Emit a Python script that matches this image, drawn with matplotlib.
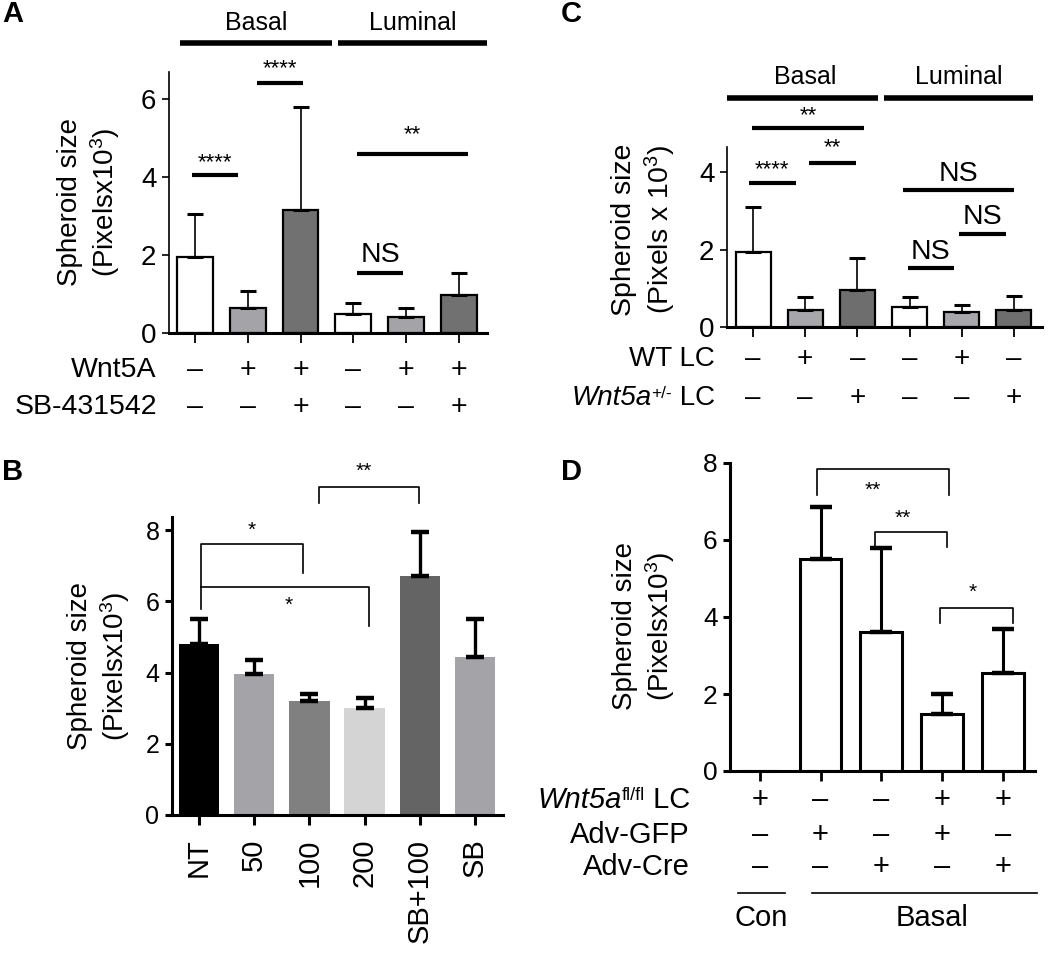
import numpy as np
import matplotlib
matplotlib.use("Agg")
import matplotlib.pyplot as plt

plt.rcParams['font.family'] = ['Liberation Sans', 'DejaVu Sans']
plt.rcParams['mathtext.fontset'] = 'custom'
plt.rcParams['mathtext.rm'] = 'Liberation Sans'
plt.rcParams['mathtext.it'] = 'Liberation Sans:italic'

# ---- data ----
# Panel A
a_means = [1.95, 0.65, 3.15, 0.5, 0.4, 0.97]
a_err = [1.1, 0.42, 2.65, 0.27, 0.23, 0.56]
a_colors = ['white', '#a4a4a8', '#717171', 'white', '#a4a4a8', '#717171']
a_wnt5a = ['–', '+', '+', '–', '+', '+']
a_sb = ['–', '–', '+', '–', '–', '+']

# Panel B
b_labels = ['NT', '50', '100', '200', 'SB+100', 'SB']
b_means = [4.8, 3.95, 3.2, 3.0, 6.7, 4.45]
b_err = [0.7, 0.4, 0.2, 0.28, 1.25, 1.05]
b_colors = ['black', '#a3a3a8', '#808080', '#d4d4d4', '#646464', '#a3a3a8']

# Panel C
c_means = [1.95, 0.45, 0.95, 0.52, 0.38, 0.45]
c_err = [1.15, 0.32, 0.83, 0.25, 0.19, 0.35]
c_colors = ['white', '#a8a8ac', '#6e6e6e', 'white', '#a8a8ac', '#6e6e6e']
c_wt = ['–', '+', '–', '–', '+', '–']
c_het = ['–', '–', '+', '–', '–', '+']

# Panel D
d_means = [0, 5.5, 3.62, 1.47, 2.55]
d_err = [0, 1.35, 2.16, 0.53, 1.13]
d_fl = ['+', '–', '–', '+', '+']
d_gfp = ['–', '+', '–', '+', '–']
d_cre = ['–', '–', '+', '–', '+']

W, H = 1050, 960
fig = plt.figure(figsize=(W / 100, H / 100), dpi=100)


def add_ax(x0, x1, y0, y1):
    # pixel box (from top-left) -> figure fraction
    return fig.add_axes([x0 / W, 1 - y1 / H, (x1 - x0) / W, (y1 - y0) / H])


def style(ax, lw_left, lw_bottom, fs):
    for s in ['top', 'right']:
        ax.spines[s].set_visible(False)
    ax.spines['left'].set_linewidth(lw_left)
    ax.spines['bottom'].set_linewidth(lw_bottom)
    ax.tick_params(axis='y', length=5, width=lw_left, labelsize=fs, pad=4)
    ax.tick_params(axis='x', length=7, width=1.3, labelbottom=False)
    ax.patch.set_alpha(0)


def sig_line(ax, x0, x1, y, label, ty, fs=16):
    ax.plot([x0, x1], [y, y], color='black', lw=3, clip_on=False, solid_capstyle='butt')
    ax.text((x0 + x1) / 2, ty, label, ha='center', va='center', fontsize=fs, clip_on=False)


def bracket(ax, x0, x1, y, yl, yr, label, tx, ty, fs=15):
    ax.plot([x0, x0, x1, x1], [yl, y, y, yr], color='black', lw=1.2, clip_on=False)
    ax.text(tx, ty, label, ha='center', va='center', fontsize=fs, clip_on=False)


def gene_label(ax, x, y, gene, sup, rest, fs):
    # italic gene name + upright superscript + plain text, right aligned at x
    t1 = ax.text(x, y, rest, ha='right', va='center', fontsize=fs, clip_on=False)
    t2 = ax.annotate(sup, xy=(0, 0.36), xycoords=t1, ha='right', va='bottom',
                     fontsize=fs * 0.62, annotation_clip=False)
    ax.annotate(gene, xy=(0, 0), xycoords=(t2, t1), ha='right', va='bottom',
                fontsize=fs, style='italic', annotation_clip=False)


def rows(ax, labels, signs, ys, xlab, fs):
    for lab, sg, y in zip(labels, signs, ys):
        if isinstance(lab, tuple):
            gene_label(ax, xlab, y, lab[0], lab[1], lab[2], fs)
        else:
            ax.text(xlab, y, lab, ha='right', va='center', fontsize=fs, clip_on=False)
        for i, s in enumerate(sg):
            ax.text(i, y, s, ha='center', va='center', fontsize=fs, clip_on=False)


# ---------------- Panel A ----------------
ax = add_ax(169, 487, 72, 333)
x = np.arange(len(a_means))
ax.bar(x, a_means, width=0.68, color=a_colors, edgecolor='black', linewidth=1.6, zorder=2)
ax.errorbar(x, a_means, yerr=[np.zeros(len(x)), a_err], fmt='none', ecolor='black',
            elinewidth=1.2, capsize=6, capthick=2.2, zorder=3)
ax.set_xlim(-0.49, 5.53)
ax.set_ylim(0, 6.7)
ax.set_yticks([0, 2, 4, 6])
ax.set_xticks(x)
style(ax, 1.2, 2.2, 20)
ax.set_ylabel('Spheroid size\n(Pixelsx10$^3$)', fontsize=20, linespacing=1.2)
ax.yaxis.set_label_coords(-0.148, 0.5)
sig_line(ax, -0.06, 0.81, 4.05, '****', 4.38)
sig_line(ax, 1.17, 2.05, 6.41, '****', 6.78)
sig_line(ax, 3.07, 3.94, 1.54, 'NS', 1.99, fs=20.5)
sig_line(ax, 3.07, 5.17, 4.6, '**', 5.1)
ax.plot([-0.28, 2.6], [7.44, 7.44], color='black', lw=4, clip_on=False, solid_capstyle='butt')
ax.plot([2.71, 5.53], [7.44, 7.44], color='black', lw=4, clip_on=False, solid_capstyle='butt')
ax.text(1.16, 7.95, 'Basal', ha='center', va='center', fontsize=18)
ax.text(4.12, 7.95, 'Luminal', ha='center', va='center', fontsize=18)
rows(ax, ['Wnt5A', 'SB-431542'], [a_wnt5a, a_sb], [-0.95, -1.9], -0.72, 20.5)
fig.text(2 / W, 1 - 14 / H, 'A', fontsize=21, fontweight='bold', va='center')

# ---------------- Panel C ----------------
ax = add_ax(727, 1042, 147, 327)
x = np.arange(len(c_means))
ax.bar(x, c_means, width=0.67, color=c_colors, edgecolor='black', linewidth=1.6, zorder=2)
ax.errorbar(x, c_means, yerr=[np.zeros(len(x)), c_err], fmt='none', ecolor='black',
            elinewidth=1.2, capsize=6, capthick=2.2, zorder=3)
ax.set_xlim(-0.5, 5.54)
ax.set_ylim(0, 4.65)
ax.set_yticks([0, 2, 4])
ax.set_xticks(x)
style(ax, 1.2, 2.2, 20)
ax.set_ylabel('Spheroid size\n(Pixels x 10$^3$)', fontsize=20.5, linespacing=1.2)
ax.yaxis.set_label_coords(-0.156, 0.54)
sig_line(ax, -0.08, 0.82, 3.72, '****', 4.06)
sig_line(ax, 1.07, 1.97, 4.24, '**', 4.62)
sig_line(ax, -0.02, 2.13, 5.14, '**', 5.47)
sig_line(ax, 2.87, 5.0, 3.54, 'NS', 3.96, fs=20.5)
sig_line(ax, 3.95, 4.85, 2.4, 'NS', 2.85, fs=20.5)
sig_line(ax, 2.97, 3.85, 1.52, 'NS', 1.94, fs=20.5)
ax.plot([-0.5, 2.39], [5.92, 5.92], color='black', lw=4, clip_on=False, solid_capstyle='butt')
ax.plot([2.51, 5.36], [5.92, 5.92], color='black', lw=4, clip_on=False, solid_capstyle='butt')
ax.text(1.0, 6.45, 'Basal', ha='center', va='center', fontsize=18)
ax.text(3.95, 6.45, 'Luminal', ha='center', va='center', fontsize=18)
rows(ax, ['WT LC', ('Wnt5a', '+/-', ' LC')], [c_wt, c_het], [-0.83, -1.83], -0.73, 20)
fig.text(561 / W, 1 - 14 / H, 'C', fontsize=21, fontweight='bold', va='center')

# ---------------- Panel B ----------------
ax = add_ax(172, 503, 517, 815)
x = np.arange(len(b_means))
ax.bar(x, b_means, width=0.73, color=b_colors, edgecolor='none', zorder=2)
ax.errorbar(x, b_means, yerr=[np.zeros(len(x)), b_err], fmt='none', ecolor='black',
            elinewidth=2.4, capsize=6.5, capthick=3.2, zorder=3)
ax.set_xlim(-0.49, 5.51)
ax.set_ylim(0, 8.37)
ax.set_yticks([0, 2, 4, 6, 8])
ax.set_xticks(x)
style(ax, 2.2, 2.2, 18)
ax.tick_params(axis='x', width=2.2, labelbottom=True, labelsize=21, labelrotation=90, pad=10)
ax.set_xticklabels(b_labels)
ax.set_ylabel('Spheroid size\n(Pixelsx10$^3$)', fontsize=20, linespacing=1.2)
ax.yaxis.set_label_coords(-0.12, 0.5)
bracket(ax, 0.04, 1.88, 7.6, 5.8, 6.8, '*', 0.96, 8.0)
bracket(ax, 0.04, 3.08, 6.4, 6.4, 5.3, '*', 1.62, 5.9)
bracket(ax, 2.17, 3.99, 9.2, 8.77, 8.77, '**', 2.99, 9.65)
fig.text(2 / W, 1 - 472 / H, 'B', fontsize=21, fontweight='bold', va='center')

# ---------------- Panel D ----------------
ax = add_ax(730, 1035, 463, 771)
x = np.arange(len(d_means))
ax.bar(x, d_means, width=0.69, color='white', edgecolor='black', linewidth=2.2, zorder=2)
m = np.array(d_err) > 0
ax.errorbar(x[m], np.array(d_means)[m], yerr=[np.zeros(m.sum()), np.array(d_err)[m]],
            fmt='none', ecolor='black', elinewidth=2.2, capsize=8, capthick=3.2, zorder=3)
ax.set_xlim(-0.49, 4.53)
ax.set_ylim(0, 8)
ax.set_yticks([0, 2, 4, 6, 8])
ax.set_xticks(x)
style(ax, 2.2, 2.2, 19)
ax.tick_params(axis='x', width=2.0)
ax.set_ylabel('Spheroid size\n(Pixelsx10$^3$)', fontsize=20, linespacing=1.2)
ax.yaxis.set_label_coords(-0.174, 0.47)
bracket(ax, 0.95, 3.11, 7.84, 7.17, 7.17, '**', 1.86, 7.3)
bracket(ax, 1.9, 3.08, 6.2, 5.82, 5.82, '**', 2.36, 6.57)
bracket(ax, 2.96, 4.16, 4.23, 3.84, 3.84, '*', 3.5, 4.65)
rows(ax, [('Wnt5a', 'fl/fl', ' LC'), 'Adv-GFP', 'Adv-Cre'],
     [d_fl, d_gfp, d_cre], [-0.75, -1.66, -2.49], -1.15, 21)
ax.plot([-0.36, 0.41], [-3.17, -3.17], color='black', lw=1.2, clip_on=False)
ax.plot([0.86, 4.56], [-3.17, -3.17], color='black', lw=1.2, clip_on=False)
ax.text(0.03, -3.82, 'Con', ha='center', va='center', fontsize=21, clip_on=False)
ax.text(2.83, -3.82, 'Basal', ha='center', va='center', fontsize=21, clip_on=False)
fig.text(561 / W, 1 - 472 / H, 'D', fontsize=21, fontweight='bold', va='center')

fig.savefig('out.png', dpi=100)
